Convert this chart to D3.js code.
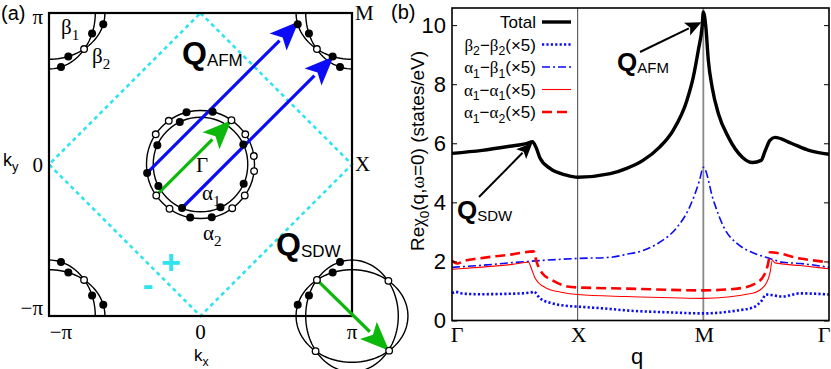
<!DOCTYPE html>
<html>
<head>
<meta charset="utf-8">
<script src="https://cdn.jsdelivr.net/npm/d3@7"></script>
<style>
  body { margin: 0; background: #fff; }
  svg { display: block; }
</style>
</head>
<body>
<svg id="fig" width="831" height="369"></svg>
<script>
// ---- data: panel (b) (q: 0=Γ, 1=X, 2=M, 3=Γ)
const qTicks = [0, 1, 2, 3];
const qLabels = ["Γ", "X", "M", "Γ"];
const yTicks = [0, 2, 4, 6, 8, 10];

const total = [[0,5.66],[0.24,5.76],[0.46,5.9],[0.60,6.0],[0.64,6.05],[0.67,5.85],[0.70,5.5],[0.78,5.15],[0.91,4.92],[1.0,4.85],[1.26,4.97],[1.39,5.15],[1.52,5.42],[1.65,5.86],[1.76,6.44],[1.87,7.46],[1.92,8.24],[1.96,9.15],[1.99,9.93],[2.0,10.45],[2.02,9.93],[2.04,8.8],[2.07,7.9],[2.12,7.0],[2.20,6.2],[2.31,5.53],[2.39,5.35],[2.46,5.42],[2.49,5.72],[2.53,6.1],[2.57,6.2],[2.70,6.0],[2.84,5.76],[3.0,5.63]];
const b2b2 = [[0,0.92],[0.03,0.97],[0.07,0.92],[0.21,0.89],[0.5,0.91],[0.63,0.95],[0.65,0.98],[0.70,0.75],[0.80,0.58],[0.9,0.5],[1.0,0.47],[1.26,0.39],[1.39,0.34],[1.7,0.28],[2.0,0.24],[2.27,0.34],[2.40,0.45],[2.46,0.65],[2.50,0.88],[2.56,0.85],[2.63,0.81],[2.77,0.92],[3.0,0.88]];
const a1b1 = [[0,1.8],[0.21,1.86],[0.6,2.0],[1.0,2.1],[1.26,2.14],[1.39,2.24],[1.52,2.37],[1.65,2.64],[1.79,3.15],[1.89,3.83],[1.97,4.75],[2.0,5.19],[2.08,4.07],[2.17,3.1],[2.27,2.6],[2.39,2.3],[2.53,2.1],[2.63,1.97],[2.77,1.93],[3.0,1.8]];
const a1a1 = [[0,1.73],[0.21,1.8],[0.48,1.9],[0.61,1.97],[0.63,1.78],[0.66,1.45],[0.74,1.12],[0.88,0.95],[1.0,0.88],[1.39,0.81],[2.0,0.75],[2.39,0.92],[2.49,1.19],[2.53,1.6],[2.55,2.05],[2.57,1.95],[2.77,1.86],[3.0,1.75]];
const a1a2 = [[0,2.03],[0.04,1.93],[0.1,2.02],[0.21,2.1],[0.48,2.24],[0.65,2.34],[0.67,2.03],[0.72,1.59],[0.80,1.36],[0.92,1.15],[1.0,1.12],[1.39,1.08],[2.0,1.02],[2.27,1.08],[2.43,1.29],[2.50,1.69],[2.52,2.03],[2.53,2.31],[2.77,2.1],[3.0,1.97]];

// ---- data: panel (a) Fermi surface sketch (k in units of rad)
// gamma pocket dots: [angle deg, ring (1=α1, 2=α2), filled]
const gammaDots = [[77,2,1],[105,2,1],[126,2,0],[116,1,1],[55,2,0],[146,2,0],[156,1,1],[34,2,0],[25,1,1],[189,2,1],[207,1,1],[215,2,0],[9,2,0],[-7,2,0],[-24,1,1],[-35,2,0],[235,2,0],[247,1,1],[259,2,1],[282,2,1],[295,1,1],[306,2,0]];
const ringR = {1: 0.98, 2: 1.12};
// corner pockets: ellipse semi-axes [along kx, along ky]
const ellAxes = {1: [1.16, 0.96], 2: [0.96, 1.16]};
// dots on corner pockets: [angle deg measured inward, ellipse, filled]
const pocketDots = [[77.5,2,1],[66,1,1],[45.8,1,0],[25.5,2,1],[11.7,1,1]];
const clippedCorners = [[-1,1],[1,1],[-1,-1]];
const sdwCorner = [1,-1];
const sdwOuterDots = [44, -43, -136];   // absolute angles on ellipse 1
const qAFM = [Math.PI, Math.PI];

const sans = "'Liberation Sans', Arial, sans-serif";
const serif = "'Liberation Serif', 'Times New Roman', serif";

const svg = d3.select("#fig");

// rich text helper: parts = [[text, kind]] kind: s=sans, g=serif, sub=subscript sans, gsub=subscript serif
function rich(sel, parts, size) {
  let sub = false;
  parts.forEach(([t, kind]) => {
    const ts = sel.append("tspan").text(t);
    const isSub = kind === "sub" || kind === "gsub";
    ts.attr("font-family", (kind === "g" || kind === "gsub") ? serif : sans)
      .attr("font-size", isSub ? size * 0.72 : size);
    if (isSub && !sub) ts.attr("dy", size * 0.28);
    if (!isSub && sub) ts.attr("dy", -size * 0.28);
    sub = isSub;
  });
  return sel;
}

function arrow(g, x1, y1, x2, y2, color, w, hl, hw) {
  const dx = x2 - x1, dy = y2 - y1, L = Math.hypot(dx, dy);
  const ux = dx / L, uy = dy / L;
  const bx = x2 - ux * hl, by = y2 - uy * hl;
  g.append("line").attr("x1", x1).attr("y1", y1).attr("x2", bx + ux * 2).attr("y2", by + uy * 2)
    .attr("stroke", color).attr("stroke-width", w);
  g.append("path")
    .attr("d", `M${x2},${y2}L${bx - uy * hw},${by + ux * hw}L${bx + ux * hl * 0.22},${by + uy * hl * 0.22}L${bx + uy * hw},${by - ux * hw}Z`)
    .attr("fill", color);
}

// =================== panel (a) ===================
const kx = d3.scaleLinear().domain([-Math.PI, Math.PI]).range([49, 352]);
const ky = d3.scaleLinear().domain([-Math.PI, Math.PI]).range([316, 13]);
const ga = svg.append("g");

ga.append("clipPath").attr("id", "bz").append("rect")
  .attr("x", kx(-Math.PI)).attr("y", ky(Math.PI))
  .attr("width", kx(Math.PI) - kx(-Math.PI)).attr("height", ky(-Math.PI) - ky(Math.PI));

const kline = d3.line().x(d => kx(d[0])).y(d => ky(d[1]));

// cyan dashed magnetic zone boundary
const diamond = [[0, Math.PI], [Math.PI, 0], [0, -Math.PI], [-Math.PI, 0], [0, Math.PI]];
ga.append("path").attr("d", kline(diamond)).attr("fill", "none")
  .attr("stroke", "#2fe3ef").attr("stroke-width", 2.6).attr("stroke-dasharray", "4,3.6");

// Γ pockets
[1, 2].forEach(r => {
  ga.append("circle").attr("cx", kx(0)).attr("cy", ky(0))
    .attr("r", kx(ringR[r]) - kx(0)).attr("fill", "none")
    .attr("stroke", "#000").attr("stroke-width", 1.4);
});
const gPos = d => [ringR[d[1]] * Math.cos(d[0] * Math.PI / 180), ringR[d[1]] * Math.sin(d[0] * Math.PI / 180)];

// corner pockets
function ellPts(cx, cy, ax, t0, t1) {
  const pts = [];
  for (let t = t0; t <= t1 + 1e-9; t += (t1 - t0) / 120) {
    pts.push([cx + ax[0] * Math.cos(t), cy + ax[1] * Math.sin(t)]);
  }
  return pts;
}
function pocketPos(c, d) {
  const ax = ellAxes[d[1]], t = d[0] * Math.PI / 180;
  const r = 1 / Math.sqrt(Math.cos(t) ** 2 / ax[0] ** 2 + Math.sin(t) ** 2 / ax[1] ** 2);
  return [c[0] * Math.PI - c[0] * r * Math.cos(t), c[1] * Math.PI - c[1] * r * Math.sin(t)];
}
function absPos(c, ang, e) {
  const ax = ellAxes[e], t = ang * Math.PI / 180;
  const r = 1 / Math.sqrt(Math.cos(t) ** 2 / ax[0] ** 2 + Math.sin(t) ** 2 / ax[1] ** 2);
  return [c[0] * Math.PI + r * Math.cos(t), c[1] * Math.PI + r * Math.sin(t)];
}

const arcs = ga.append("g").attr("clip-path", "url(#bz)");
clippedCorners.forEach(c => {
  [1, 2].forEach(e => {
    arcs.append("path").attr("d", kline(ellPts(c[0] * Math.PI, c[1] * Math.PI, ellAxes[e], 0, 2 * Math.PI)))
      .attr("fill", "none").attr("stroke", "#000").attr("stroke-width", 1.4);
  });
});

// frame
ga.append("rect").attr("x", kx(-Math.PI)).attr("y", ky(Math.PI))
  .attr("width", kx(Math.PI) - kx(-Math.PI)).attr("height", ky(-Math.PI) - ky(Math.PI))
  .attr("fill", "none").attr("stroke", "#000").attr("stroke-width", 2.2);

// full pockets at (π,-π)
[1, 2].forEach(e => {
  ga.append("path").attr("d", kline(ellPts(sdwCorner[0] * Math.PI, sdwCorner[1] * Math.PI, ellAxes[e], 0, 2 * Math.PI)))
    .attr("fill", "none").attr("stroke", "#000").attr("stroke-width", 1.4);
});

function dot(p, filled) {
  ga.append("circle").attr("cx", kx(p[0])).attr("cy", ky(p[1]))
    .attr("r", filled ? 4 : 3.3)
    .attr("fill", filled ? "#000" : "#fff")
    .attr("stroke", "#000").attr("stroke-width", filled ? 0 : 1.3);
}

// arrows (drawn under the dots)
const arrowG = ga.append("g");
const blueStarts = [gammaDots.find(d => d[0] === 189), gammaDots.find(d => d[0] === 247)];
blueStarts.forEach(d => {
  const s = gPos(d), e = [s[0] + qAFM[0], s[1] + qAFM[1]];
  arrow(arrowG, kx(s[0]), ky(s[1]), kx(e[0]), ky(e[1]), "#0b0bf5", 3.2, 29, 12);
});
{
  const s = gPos(gammaDots.find(d => d[0] === 215)), e = gPos(gammaDots.find(d => d[0] === 55));
  arrow(arrowG, kx(s[0]), ky(s[1]), kx(e[0]), ky(e[1]), "#0cb80c", 3.2, 29, 12);
  const s2 = pocketPos(sdwCorner, pocketDots[2]), e2 = absPos(sdwCorner, -43, 1);
  arrow(arrowG, kx(s2[0]), ky(s2[1]), kx(e2[0]), ky(e2[1]), "#0cb80c", 3.2, 29, 12);
}

gammaDots.forEach(d => dot(gPos(d), d[2]));
clippedCorners.concat([sdwCorner]).forEach(c => pocketDots.forEach(d => dot(pocketPos(c, d), d[2])));
sdwOuterDots.forEach(a => dot(absPos(sdwCorner, a, 1), 0));

// panel (a) texts
ga.append("text").attr("x", 1).attr("y", 20).attr("font-family", sans).attr("font-size", 20).text("(a)");
const piTicks = [[-Math.PI, "−π"], [0, "0"], [Math.PI, "π"]];
ga.selectAll(".ylab").data(piTicks).join("text")
  .attr("x", 43).attr("y", d => ky(d[0]) + (d[0] > 0 ? 11 : d[0] < 0 ? -1 : 7))
  .attr("text-anchor", "end").attr("font-family", serif).attr("font-size", 21).text(d => d[1]);
ga.selectAll(".xlab").data(piTicks).join("text")
  .attr("x", d => kx(d[0]) + (d[0] < 0 ? 12 : 0)).attr("y", 339)
  .attr("text-anchor", "middle").attr("font-family", serif).attr("font-size", 21).text(d => d[1]);
rich(ga.append("text").attr("x", 194).attr("y", 361), [["k", "s"], ["x", "sub"]], 17);
rich(ga.append("text").attr("x", 3).attr("y", 166), [["k", "s"], ["y", "sub"]], 18);
ga.append("text").attr("x", 355).attr("y", 20).attr("font-family", serif).attr("font-size", 21).text("M");
ga.append("text").attr("x", 355).attr("y", 171).attr("font-family", serif).attr("font-size", 21).text("X");
ga.append("text").attr("x", 196).attr("y", 172).attr("font-family", serif).attr("font-size", 21).text("Γ");
rich(ga.append("text").attr("x", 202).attr("y", 200), [["α", "g"], ["1", "gsub"]], 21);
rich(ga.append("text").attr("x", 203).attr("y", 240), [["α", "g"], ["2", "gsub"]], 21);
rich(ga.append("text").attr("x", 61).attr("y", 34), [["β", "g"], ["1", "gsub"]], 21);
rich(ga.append("text").attr("x", 92).attr("y", 63), [["β", "g"], ["2", "gsub"]], 21);
ga.append("text").attr("x", 171).attr("y", 274).attr("text-anchor", "middle")
  .attr("font-family", sans).attr("font-weight", "bold").attr("font-size", 34).attr("fill", "#2fe3ef").text("+");
ga.append("text").attr("x", 148).attr("y", 295).attr("text-anchor", "middle")
  .attr("font-family", sans).attr("font-weight", "bold").attr("font-size", 32).attr("fill", "#2fe3ef").text("-");
const qa = ga.append("text").attr("x", 182).attr("y", 64);
qa.append("tspan").attr("font-family", sans).attr("font-weight", "bold").attr("font-size", 32).text("Q");
qa.append("tspan").attr("font-family", sans).attr("font-size", 17).attr("dy", 2).text("AFM");
const qs = ga.append("text").attr("x", 276).attr("y", 255);
qs.append("tspan").attr("font-family", sans).attr("font-weight", "bold").attr("font-size", 32).text("Q");
qs.append("tspan").attr("font-family", sans).attr("font-size", 17).attr("dy", 2).text("SDW");

// =================== panel (b) ===================
const x = d3.scaleLinear().domain([0, 3]).range([452, 829]);
const y = d3.scaleLinear().domain([0, 10.58]).range([320.5, 8]);
const gb = svg.append("g");

// vertical symmetry-point lines
gb.append("line").attr("x1", x(1)).attr("x2", x(1)).attr("y1", y(0)).attr("y2", y(10.58))
  .attr("stroke", "#444").attr("stroke-width", 1);
gb.append("line").attr("x1", x(2)).attr("x2", x(2)).attr("y1", y(0)).attr("y2", y(10.58))
  .attr("stroke", "#888").attr("stroke-width", 1.8);

const series = [
  {name: [["β","g"],["2","sub"],["−","s"],["β","g"],["2","sub"],["(×5)","s"]], data: b2b2, color: "#0b0bf5", w: 2.6, dash: "2.2,2.2"},
  {name: [["α","g"],["1","sub"],["−","s"],["β","g"],["1","sub"],["(×5)","s"]], data: a1b1, color: "#0b0bf5", w: 1.6, dash: "8,3,2,3"},
  {name: [["α","g"],["1","sub"],["−","s"],["α","g"],["1","sub"],["(×5)","s"]], data: a1a1, color: "#ff0000", w: 1.1, dash: null},
  {name: [["α","g"],["1","sub"],["−","s"],["α","g"],["2","sub"],["(×5)","s"]], data: a1a2, color: "#ff0000", w: 2.6, dash: "10,5"},
  {name: [["Total","s"]], data: total, color: "#000", w: 3.4, dash: null}
];
const line = d3.line().x(d => x(d[0])).y(d => y(d[1])).curve(d3.curveMonotoneX);
series.forEach(s => {
  gb.append("path").attr("d", line(s.data)).attr("fill", "none")
    .attr("stroke", s.color).attr("stroke-width", s.w)
    .attr("stroke-dasharray", s.dash).attr("stroke-linejoin", "round");
});

// frame + ticks
gb.append("rect").attr("x", x(0)).attr("y", y(10.58)).attr("width", x(3) - x(0)).attr("height", y(0) - y(10.58))
  .attr("fill", "none").attr("stroke", "#000").attr("stroke-width", 1.6);
gb.append("g").attr("transform", `translate(${x(0)},0)`)
  .call(d3.axisLeft(y).tickValues(yTicks).tickSize(-5).tickPadding(6).tickFormat(d3.format("d")))
  .call(g => g.select(".domain").remove())
  .call(g => g.selectAll("text").attr("font-family", sans).attr("font-size", 22).attr("fill", "#000"));
gb.append("g").attr("transform", `translate(${x(3)},0)`)
  .call(d3.axisRight(y).tickValues(yTicks).tickSize(-5).tickFormat(""))
  .call(g => g.select(".domain").remove());
gb.selectAll(".qlab").data(qTicks).join("text")
  .attr("x", d => x(d) + (d === 0 ? 5 : d === 3 ? -5 : 1)).attr("y", 342)
  .attr("text-anchor", "middle").attr("font-family", serif).attr("font-size", 22)
  .text((d, i) => qLabels[i]);
gb.append("text").attr("x", 637).attr("y", 364).attr("text-anchor", "middle")
  .attr("font-family", sans).attr("font-size", 22).text("q");
gb.append("text").attr("x", 391).attr("y", 19).attr("font-family", sans).attr("font-size", 20).text("(b)");
rich(gb.append("text").attr("transform", "translate(424,151) rotate(-90)").attr("text-anchor", "middle"),
  [["Re","s"],["χ","g"],["0","sub"],["(q,","s"],["ω","g"],["=0) (states/eV)","s"]], 19);

// legend
const legOrder = [4, 0, 1, 2, 3];
const legY = [22, 44.5, 67, 89.5, 112];
legOrder.forEach((si, i) => {
  const s = series[si];
  rich(gb.append("text").attr("x", 536).attr("y", legY[i] + 6).attr("text-anchor", "end"), s.name, 17);
  gb.append("line").attr("x1", 542).attr("x2", 571).attr("y1", legY[i]).attr("y2", legY[i])
    .attr("stroke", s.color).attr("stroke-width", s.w).attr("stroke-dasharray", s.dash);
});

// annotations
arrow(gb, 479, 197, x(0.64), y(6.05) + 1, "#000", 2, 16, 7);
arrow(gb, 640, 52, x(1.985), y(10.1), "#000", 2, 16, 7);
const qs2 = gb.append("text").attr("x", 457).attr("y", 219);
qs2.append("tspan").attr("font-family", sans).attr("font-weight", "bold").attr("font-size", 26).text("Q");
qs2.append("tspan").attr("font-family", sans).attr("font-size", 15).attr("dy", 2).text("SDW");
const qa2 = gb.append("text").attr("x", 617).attr("y", 71);
qa2.append("tspan").attr("font-family", sans).attr("font-weight", "bold").attr("font-size", 26).text("Q");
qa2.append("tspan").attr("font-family", sans).attr("font-size", 15).attr("dy", 2).text("AFM");
</script>
</body>
</html>
